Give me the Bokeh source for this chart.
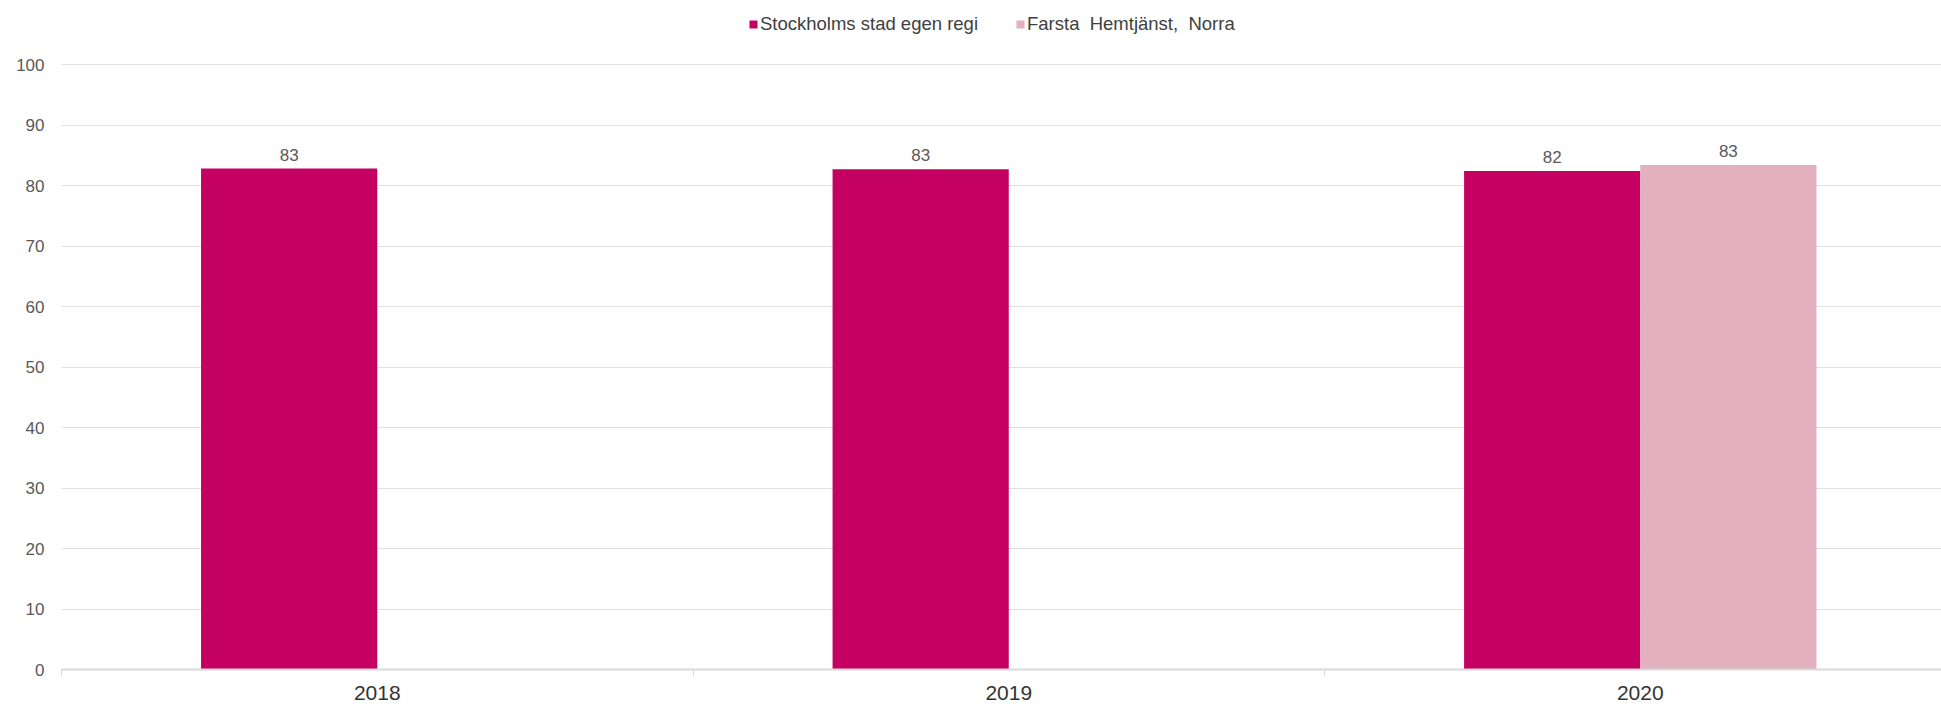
from bokeh.plotting import figure
from bokeh.models import ColumnDataSource, FixedTicker, Legend, LegendItem
from bokeh.core.properties import value
from bokeh.embed import file_html
from bokeh.resources import INLINE

# ---- data ----
years = ["2018", "2019", "2020"]
series_names = ["Stockholms stad egen regi", "Farsta  Hemtjänst,  Norra"]
stockholm = [82.8, 82.7, 82.4]
farsta = [None, None, 83.4]
colors = ["#c40062", "#e2b0bf"]
y_ticks = [0, 10, 20, 30, 40, 50, 60, 70, 80, 90, 100]

FONT = "Liberation Sans"
centers = [i + 0.5 for i in range(len(years))]
bar_w = 0.279
offsets = [-bar_w / 2, bar_w / 2]

p = figure(width=1941, height=706, x_range=(0, 2.977), y_range=(0, 109.92),
           output_backend="svg", toolbar_location=None,
           min_border_left=61, min_border_right=0, min_border_top=4,
           min_border_bottom=37)
p.outline_line_color = None
p.background_fill_color = "white"
p.border_fill_color = "white"

renderers = []
for vals, off, col in zip([stockholm, farsta], offsets, colors):
    xs, tops, labels = [], [], []
    for c, v in zip(centers, vals):
        if v is None:
            continue
        xs.append(c + off)
        tops.append(v)
        labels.append(str(int(round(v))))
    src = ColumnDataSource(dict(x=xs, top=tops, label=labels))
    r = p.vbar(x="x", top="top", width=bar_w, bottom=0, source=src,
               fill_color=col, line_color=None)
    renderers.append(r)
    p.text(x="x", y="top", text="label", source=src, text_align="center",
           text_baseline="bottom", y_offset=-8, text_font=value(FONT),
           text_font_size="17px", text_color="#595959")

# axes
p.xaxis.ticker = FixedTicker(ticks=centers, minor_ticks=[0, 1, 2, 3])
p.xaxis.major_label_overrides = {c: y for c, y in zip(centers, years)}
p.xaxis.major_tick_line_color = None
p.xaxis.major_tick_out = 0
p.xaxis.major_tick_in = 0
p.xaxis.minor_tick_out = 7
p.xaxis.minor_tick_in = 0
p.xaxis.minor_tick_line_color = "#d9d9d9"
p.xaxis.minor_tick_line_width = 1
p.xaxis.axis_line_color = "#d9d9d9"
p.xaxis.axis_line_width = 2
p.xaxis.major_label_text_font = FONT
p.xaxis.major_label_text_font_size = "21px"
p.xaxis.major_label_text_color = "#333333"
p.xaxis.major_label_standoff = 9

p.yaxis.ticker = FixedTicker(ticks=y_ticks)
p.yaxis.axis_line_color = None
p.yaxis.major_tick_line_color = None
p.yaxis.major_tick_out = 0
p.yaxis.minor_tick_line_color = None
p.yaxis.major_label_text_font = FONT
p.yaxis.major_label_text_font_size = "17px"
p.yaxis.major_label_text_color = "#595959"
p.yaxis.major_label_standoff = 17

p.xgrid.grid_line_color = None
p.ygrid.grid_line_color = "#e0e0e0"
p.ygrid.grid_line_width = 1

legend = Legend(items=[LegendItem(label=n, renderers=[r]) for n, r in zip(series_names, renderers)],
                orientation="horizontal", location=(687, 634),
                label_text_font=FONT, label_text_font_size="18.5px",
                label_text_color="#404040", glyph_width=10, glyph_height=10,
                label_standoff=2, spacing=37, padding=0, margin=0,
                border_line_color=None, background_fill_alpha=0)
p.add_layout(legend, "center")

open("out.html", "w").write(file_html(p, INLINE))
